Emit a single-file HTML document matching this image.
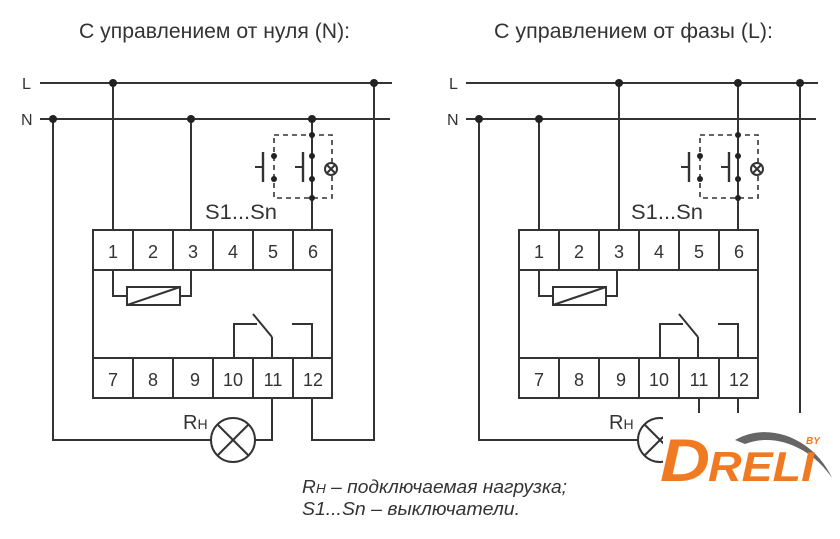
<!DOCTYPE html>
<html><head><meta charset="utf-8"><style>
html,body{margin:0;padding:0;background:#fff;}
svg{display:block;}
text{font-family:"Liberation Sans",sans-serif;fill:#333;}
</style></head><body>
<svg width="840" height="539" viewBox="0 0 840 539" xmlns="http://www.w3.org/2000/svg">
<defs>
<g id="relay" fill="none" stroke="#333" stroke-width="2">
  <rect x="93" y="230" width="239" height="168"/>
  <line x1="93" y1="270" x2="332" y2="270"/>
  <line x1="93" y1="358" x2="332" y2="358"/>
  <line x1="133" y1="230" x2="133" y2="270"/><line x1="173" y1="230" x2="173" y2="270"/>
  <line x1="213" y1="230" x2="213" y2="270"/><line x1="253" y1="230" x2="253" y2="270"/>
  <line x1="293" y1="230" x2="293" y2="270"/>
  <line x1="133" y1="358" x2="133" y2="398"/><line x1="173" y1="358" x2="173" y2="398"/>
  <line x1="213" y1="358" x2="213" y2="398"/><line x1="253" y1="358" x2="253" y2="398"/>
  <line x1="293" y1="358" x2="293" y2="398"/>
  <polyline points="113,270 113,296 127,296"/>
  <rect x="127" y="287" width="53" height="18"/>
  <line x1="127" y1="305" x2="180" y2="287"/>
  <polyline points="180,296 191,296 191,270"/>
  <polyline points="234,358 234,324 257,324"/>
  <line x1="253" y1="314" x2="272" y2="337"/>
  <line x1="272" y1="337" x2="272" y2="358"/>
  <polyline points="292,324 312,324 312,358"/>
  <rect x="274" y="135" width="58" height="63" stroke-dasharray="5,4" stroke-width="1.6"/>
  <line x1="312" y1="135" x2="312" y2="198"/>
  <line x1="263" y1="152" x2="263" y2="182" stroke-width="2.4"/>
  <line x1="255" y1="167" x2="263" y2="167"/>
  <line x1="303" y1="152" x2="303" y2="182" stroke-width="2.4"/>
  <line x1="295" y1="167" x2="303" y2="167"/>
  <circle cx="331" cy="169" r="6" fill="#fff"/>
  <line x1="327" y1="165" x2="335" y2="173"/><line x1="335" y1="165" x2="327" y2="173"/>
  <g stroke="none" fill="#222">
   <circle cx="274" cy="156" r="3"/><circle cx="274" cy="179" r="3"/>
   <circle cx="312" cy="135" r="3"/><circle cx="312" cy="156" r="3"/>
   <circle cx="312" cy="179" r="3"/><circle cx="312" cy="198" r="3"/>
  </g>
  <g stroke="none" fill="#333" font-size="18" text-anchor="middle">
   <text x="113" y="258">1</text><text x="153" y="258">2</text><text x="193" y="258">3</text>
   <text x="233" y="258">4</text><text x="273" y="258">5</text><text x="313" y="258">6</text>
   <text x="113" y="386">7</text><text x="153" y="386">8</text><text x="195" y="386">9</text>
   <text x="233" y="386">10</text><text x="273" y="386">11</text><text x="313" y="386">12</text>
  </g>
  <text x="205" y="219" font-size="21" stroke="none" fill="#222" textLength="72" lengthAdjust="spacingAndGlyphs">S1...Sn</text>
</g>
</defs>

<text x="79" y="38" font-size="21" fill="#222" textLength="271" lengthAdjust="spacingAndGlyphs">С управлением от нуля (N):</text>
<text x="494" y="38" font-size="21" fill="#222" textLength="279" lengthAdjust="spacingAndGlyphs">С управлением от фазы (L):</text>

<!-- LEFT -->
<g fill="none" stroke="#333" stroke-width="2">
 <line x1="40" y1="83" x2="392" y2="83"/>
 <line x1="40" y1="119" x2="390" y2="119"/>
 <line x1="113" y1="83" x2="113" y2="230"/>
 <line x1="191" y1="119" x2="191" y2="230"/>
 <line x1="312" y1="119" x2="312" y2="230"/>
 <polyline points="53,119 53,440 211,440"/>
 <polyline points="255,440 272,440 272,398"/>
 <polyline points="312,398 312,440 374,440 374,83"/>
 <circle cx="233" cy="440" r="22"/>
 <line x1="217" y1="424" x2="249" y2="456"/><line x1="249" y1="424" x2="217" y2="456"/>
</g>
<g fill="#222">
 <circle cx="113" cy="83" r="4"/><circle cx="374" cy="83" r="4"/>
 <circle cx="53" cy="119" r="4"/><circle cx="191" cy="119" r="4"/><circle cx="312" cy="119" r="4"/>
</g>
<text x="22" y="89" font-size="16">L</text>
<text x="21" y="125" font-size="16">N</text>
<text x="183" y="429" font-size="20" fill="#222">R<tspan font-size="14">Н</tspan></text>
<use href="#relay"/>

<!-- RIGHT -->
<g fill="none" stroke="#333" stroke-width="2">
 <line x1="466" y1="83" x2="818" y2="83"/>
 <line x1="466" y1="119" x2="816" y2="119"/>
 <line x1="539" y1="119" x2="539" y2="230"/>
 <line x1="619" y1="83" x2="619" y2="230"/>
 <line x1="738" y1="83" x2="738" y2="230"/>
 <line x1="800" y1="83" x2="800" y2="413"/>
 <line x1="699" y1="398" x2="699" y2="413"/>
 <line x1="738" y1="398" x2="738" y2="413"/>
 <polyline points="479,119 479,440 638,440"/>
 <circle cx="660" cy="440" r="22"/>
 <line x1="644" y1="424" x2="676" y2="456"/><line x1="676" y1="424" x2="644" y2="456"/>
</g>
<g fill="#222">
 <circle cx="619" cy="83" r="4"/><circle cx="738" cy="83" r="4"/><circle cx="800" cy="83" r="4"/>
 <circle cx="479" cy="119" r="4"/><circle cx="539" cy="119" r="4"/>
</g>
<text x="449" y="89" font-size="16">L</text>
<text x="447" y="125" font-size="16">N</text>
<text x="609" y="429" font-size="20" fill="#222">R<tspan font-size="14">Н</tspan></text>
<use href="#relay" x="426"/>

<!-- logo -->
<rect x="663" y="413" width="175" height="72" fill="#fff"/>
<path d="M735,440 C770,420 815,440 832,478 C812,448 775,432 745,444 Z" fill="#666"/>
<text x="660" y="481" font-size="60" font-weight="bold" font-style="italic" style="fill:#f07a22" textLength="50" lengthAdjust="spacingAndGlyphs">D</text>
<text x="708" y="481" font-size="42" font-weight="bold" font-style="italic" style="fill:#f07a22" textLength="106" lengthAdjust="spacingAndGlyphs">RELI</text>
<text x="806" y="444" font-size="10" font-weight="bold" font-style="italic" style="fill:#f07a22">BY</text>

<text x="302" y="493" font-size="18" font-style="italic" fill="#222" textLength="265" lengthAdjust="spacingAndGlyphs">R<tspan font-size="13">Н</tspan> – подключаемая нагрузка;</text>
<text x="302" y="515" font-size="18" font-style="italic" fill="#222" textLength="218" lengthAdjust="spacingAndGlyphs">S1...Sn – выключатели.</text>
</svg>
</body></html>
